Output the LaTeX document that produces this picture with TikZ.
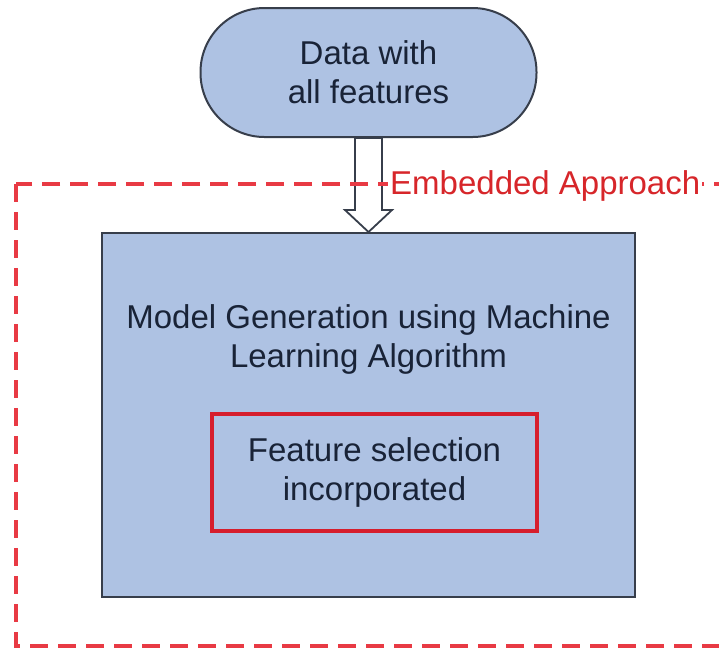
\documentclass[tikz,border=0pt]{standalone}
\usepackage{fontspec}
\setmainfont{Liberation Sans}
\definecolor{boxfill}{RGB}{174,194,227}
\definecolor{boxline}{RGB}{55,62,75}
\definecolor{inktext}{RGB}{25,35,55}
\definecolor{framered}{RGB}{232,58,68}
\definecolor{labelred}{RGB}{215,38,42}
\definecolor{innerred}{RGB}{214,30,45}
\tikzset{
  bigfont/.style={font=\fontsize{33}{39}\selectfont},
  flowbox/.style={draw=boxline, line width=2pt, fill=boxfill, inner sep=0pt},
  terminal/.style={flowbox, rounded corners=64pt, minimum width=336pt, minimum height=129pt,
                   bigfont, text=inktext, align=center},
  hollowarrow/.style={draw=boxline, line width=1.8pt, fill=white, line join=miter},
  embedframe/.style={draw=framered, line width=3.4pt, dash pattern=on 18pt off 10pt},
  innerbox/.style={draw=innerred, line width=3.5pt, inner sep=0pt, bigfont, text=inktext, align=center}
}
\begin{document}
\begin{tikzpicture}[x=1pt,y=-1pt]
  \useasboundingbox (0,0) rectangle (719,649);
  \clip (0,0) rectangle (719,649);
  \fill[white] (0,0) rectangle (719,649);

  % input data terminal
  \node[terminal] (data) at (368.5,72.5) {Data with\\all features};

  % model generation block
  \node[flowbox, minimum width=533pt, minimum height=364pt] (model) at (368.5,415) {};
  \coordinate (headbase) at (368.5,210);

  % hollow block arrow from the data into the model block
  \draw[hollowarrow]
    ([xshift=-13.5pt]data.south) -- ([xshift=-13.5pt]data.south |- headbase)
    -- ++(-10,0) -- (model.north) -- ([xshift=23.5pt]headbase)
    -- ([xshift=13.5pt]data.south |- headbase) -- ([xshift=13.5pt]data.south) -- cycle;

  % dashed frame of the embedded approach
  \draw[embedframe] (16,184) rectangle (780,646);
  \node[fill=white, inner xsep=2pt, inner ysep=1pt, anchor=base west, text=labelred,
        bigfont] (embedlabel) at (388,194) {Embedded Approach};

  % block texts
  \node[bigfont, text=inktext, align=center, inner sep=0pt] (modeltext) at (368.5,339)
    {Model Generation using Machine\\Learning Algorithm};
  \node[innerbox, minimum width=325pt, minimum height=117pt] (featsel) at (374.5,472.5)
    {Feature selection\\incorporated};
\end{tikzpicture}
\end{document}
